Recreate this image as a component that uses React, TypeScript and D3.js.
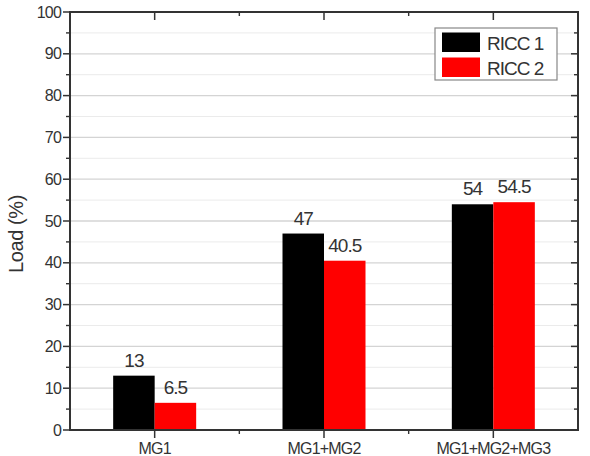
import React from "react";
import * as d3 from "d3";

const categories = ["MG1", "MG1+MG2", "MG1+MG2+MG3"];
const seriesNames = ["RICC 1", "RICC 2"];
const ricc1 = [13, 47, 54];
const ricc2 = [6.5, 40.5, 54.5];
const ricc1Labels = ["13", "47", "54"];
const ricc2Labels = ["6.5", "40.5", "54.5"];
const yTicks = [0, 10, 20, 30, 40, 50, 60, 70, 80, 90, 100];
const yMinor = [5, 15, 25, 35, 45, 55, 65, 75, 85, 95];
const colors = ["#000000", "#ff0000"];

const W = 590, H = 456;
const M = { left: 70, right: 12, top: 12, bottom: 26 };

export default function App() {
  const x = d3.scaleBand<string>().domain(categories).range([M.left, W - M.right]);
  const y = d3.scaleLinear().domain([0, 100]).range([H - M.bottom, M.top]);
  const barW = 41.5;
  const series = [ricc1, ricc2];
  const labels = [ricc1Labels, ricc2Labels];
  const font = "'Liberation Sans', Arial, sans-serif";
  const x0 = M.left, x1 = W - M.right, y0 = y(0), y1 = y(100);
  const step = x.step();
  const minorX = categories.slice(0, -1).map((c) => (x(c) as number) + step);
  const ink = "#333";
  return (
    <svg width={W} height={H} style={{ position: "absolute", left: 0, top: 0, background: "#fff" }}>
      <rect x={0} y={0} width={W} height={H} fill="#fff" />
      {yMinor.map((t) => (
        <line key={"gm" + t} x1={x0} x2={x1} y1={y(t)} y2={y(t)} stroke="#ebebeb" strokeWidth={1} />
      ))}
      {yTicks.slice(1, -1).map((t) => (
        <line key={"g" + t} x1={x0} x2={x1} y1={y(t)} y2={y(t)} stroke="#d4d4d4" strokeWidth={1.3} />
      ))}
      {categories.map((c, i) =>
        series.map((s, j) => {
          const cx = (x(c) as number) + step / 2;
          const bx = cx - barW + j * barW;
          return (
            <rect key={c + j} x={bx} y={y(s[i])} width={barW} height={y0 - y(s[i])} fill={colors[j]} />
          );
        })
      )}
      {categories.map((c, i) =>
        series.map((s, j) => {
          const cx = (x(c) as number) + step / 2;
          const bx = cx - barW + j * barW + barW / 2;
          return (
            <text key={"l" + c + j} x={bx} y={y(s[i]) - 9} textAnchor="middle" fontFamily={font} fontSize={19} fill={ink} letterSpacing={-1}>
              {labels[j][i]}
            </text>
          );
        })
      )}
      <rect x={x0} y={y1} width={x1 - x0} height={y0 - y1} fill="none" stroke={ink} strokeWidth={2} />
      {yTicks.map((t) => (
        <g key={"yt" + t}>
          <line x1={x0 - 7} x2={x0} y1={y(t)} y2={y(t)} stroke={ink} strokeWidth={1.5} />
          <line x1={x1 - 7} x2={x1} y1={y(t)} y2={y(t)} stroke={ink} strokeWidth={1.5} />
          <text x={x0 - 9} y={y(t) + 5.5} textAnchor="end" fontFamily={font} fontSize={16} fill={ink} letterSpacing={-0.8}>
            {t}
          </text>
        </g>
      ))}
      {yMinor.map((t) => (
        <g key={"ym" + t}>
          <line x1={x0 - 4} x2={x0} y1={y(t)} y2={y(t)} stroke={ink} strokeWidth={1.4} />
          <line x1={x1 - 4} x2={x1} y1={y(t)} y2={y(t)} stroke={ink} strokeWidth={1.4} />
        </g>
      ))}
      {categories.map((c) => {
        const cx = (x(c) as number) + step / 2;
        return (
          <g key={"xt" + c}>
            <line x1={cx} x2={cx} y1={y0} y2={y0 + 8} stroke={ink} strokeWidth={1.5} />
            <line x1={cx} x2={cx} y1={y1} y2={y1 + 8} stroke={ink} strokeWidth={1.5} />
            <text x={cx} y={y0 + 24} textAnchor="middle" fontFamily={font} fontSize={16} fill={ink} letterSpacing={-0.8}>
              {c}
            </text>
          </g>
        );
      })}
      {minorX.map((mx, i) => (
        <g key={"xm" + i}>
          <line x1={mx} x2={mx} y1={y0} y2={y0 + 4} stroke={ink} strokeWidth={1.4} />
          <line x1={mx} x2={mx} y1={y1} y2={y1 + 4} stroke={ink} strokeWidth={1.4} />
        </g>
      ))}
      <text transform={`translate(23,${(y0 + y1) / 2 + 13}) rotate(-90)`} textAnchor="middle" fontFamily={font} fontSize={20} fill={ink} letterSpacing={-0.4}>
        Load (%)
      </text>
      <rect x={435} y={28} width={122} height={52} fill="#fff" stroke="#888" strokeWidth={1.2} />
      {seriesNames.map((n, j) => (
        <g key={"lg" + n}>
          <rect x={442} y={32.5 + j * 25} width={38} height={19.5} fill={colors[j]} />
          <text x={487} y={49.5 + j * 25} fontFamily={font} fontSize={19} fill={ink} letterSpacing={-1}>
            {n}
          </text>
        </g>
      ))}
    </svg>
  );
}
